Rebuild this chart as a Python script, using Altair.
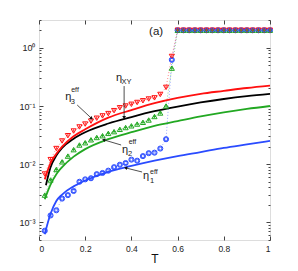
import altair as alt
import pandas as pd

# ---------------- data ----------------
T_pts = [0.025, 0.05, 0.075, 0.1, 0.125, 0.15, 0.175, 0.2, 0.225, 0.25, 0.275, 0.3,
         0.325, 0.35, 0.375, 0.4, 0.425, 0.45, 0.475, 0.5, 0.525, 0.55, 0.575,
         0.6, 0.625, 0.65, 0.675, 0.7, 0.725, 0.75, 0.775, 0.8, 0.825, 0.85, 0.875,
         0.9, 0.925, 0.95, 0.975, 1.0]
blue_pts = [7.2e-4, 1.32e-3, 1.62e-3, 2.57e-3, 2.95e-3, 3.47e-3, 5.0e-3, 5.5e-3, 5.75e-3,
            6.76e-3, 7.08e-3, 7.76e-3, 8.9e-3, 9.8e-3, 1.05e-2, 1.2e-2, 1.15e-2, 1.38e-2,
            1.55e-2, 1.58e-2, 1.86e-2, 2.69e-2, 0.62,
            2, 2, 2, 2, 2, 2, 2, 2, 2, 2, 2, 2, 2, 2, 2, 2, 2]
green_pts = [2.95e-3, 5.37e-3, 8.13e-3, 1.10e-2, 1.38e-2, 1.78e-2, 2.14e-2, 2.34e-2, 2.63e-2,
             2.88e-2, 3.09e-2, 3.39e-2, 3.63e-2, 3.98e-2, 4.27e-2, 4.57e-2, 4.90e-2, 5.25e-2,
             5.75e-2, 6.61e-2, 7.59e-2, 0.100, 0.447,
             2, 2, 2, 2, 2, 2, 2, 2, 2, 2, 2, 2, 2, 2, 2, 2, 2]
red_pts = [6.8e-3, 1.2e-2, 1.86e-2, 2.51e-2, 3.09e-2, 3.72e-2, 4.37e-2, 4.9e-2, 5.5e-2,
           6.17e-2, 6.76e-2, 7.41e-2, 8.32e-2, 9.33e-2, 0.100, 0.107, 0.115, 0.123,
           0.132, 0.138, 0.158, 0.209, 0.71,
           2, 2, 2, 2, 2, 2, 2, 2, 2, 2, 2, 2, 2, 2, 2, 2, 2]

T_fit = [0.025, 0.05, 0.075, 0.1, 0.15, 0.2, 0.3, 0.4, 0.5, 0.6, 0.7, 0.8, 0.9, 1.0]
T_fit_xy = [0.03, 0.05, 0.075, 0.1, 0.15, 0.2, 0.3, 0.4, 0.5, 0.6, 0.7, 0.8, 0.9, 1.0]
red_fit = [5.5e-3, 1.05e-2, 1.51e-2, 2.0e-2, 3.02e-2, 3.98e-2, 6.31e-2, 8.51e-2, 0.112,
           0.138, 0.162, 0.182, 0.204, 0.224]
black_fit = [4.37e-3, 8.9e-3, 1.41e-2, 1.91e-2, 2.75e-2, 3.55e-2, 5.01e-2, 6.46e-2, 8.13e-2,
             9.77e-2, 0.115, 0.132, 0.148, 0.162]
green_fit = [2.51e-3, 4.47e-3, 6.76e-3, 8.91e-3, 1.35e-2, 1.82e-2, 2.69e-2, 3.55e-2, 4.57e-2,
             5.5e-2, 6.61e-2, 7.76e-2, 8.91e-2, 0.100]
blue_fit = [6.3e-4, 1.41e-3, 2.34e-3, 3.02e-3, 4.17e-3, 5.25e-3, 7.41e-3, 9.33e-3, 1.15e-2,
            1.38e-2, 1.62e-2, 1.91e-2, 2.19e-2, 2.51e-2]

x_ticks = [0, 0.2, 0.4, 0.6, 0.8, 1.0]
y_major = [1e-3, 1e-2, 1e-1, 1.0]

# annotations (data coordinates)
eta_T = [0.347, 0.1266, 0.3728, 0.4635]
eta_v = [0.303, 0.143, 0.01754, 0.00628]
sub_lab = ["XY", "3", "2", "1"]
sub_T = [0.357, 0.137, 0.3857, 0.4808]
sub_v = [0.258, 0.117, 0.0150, 0.00515]
sup_T = [0.1395, 0.388, 0.4808]
sup_v = [0.188, 0.0241, 0.00736]
arr_T0 = [0.3685, 0.1654, 0.3555, 0.4462]
arr_v0 = [0.220, 0.104, 0.0214, 0.00736]
arr_T1 = [0.3685, 0.2259, 0.2821, 0.3771]
arr_v1 = [0.0648, 0.0622, 0.0261, 0.00861]
arr_ang = [180, 133, 286, 284]

# ---------------- tables ----------------
series = ["blue", "green", "red"]
colors = {"blue": "#2a4bff", "green": "#22a822", "red": "#ff1010", "black": "#000000"}

pts = pd.concat([
    pd.DataFrame({"T": T_pts, "v": blue_pts, "s": "blue"}),
    pd.DataFrame({"T": T_pts, "v": green_pts, "s": "green"}),
    pd.DataFrame({"T": T_pts, "v": red_pts, "s": "red"}),
], ignore_index=True)

fits = pd.concat([
    pd.DataFrame({"T": T_fit, "v": blue_fit, "s": "blue"}),
    pd.DataFrame({"T": T_fit, "v": green_fit, "s": "green"}),
    pd.DataFrame({"T": T_fit_xy, "v": black_fit, "s": "black"}),
    pd.DataFrame({"T": T_fit, "v": red_fit, "s": "red"}),
], ignore_index=True)

eta_df = pd.DataFrame({"T": eta_T, "v": eta_v, "t": ["η"] * 4})
sub_df = pd.DataFrame({"T": sub_T, "v": sub_v, "t": sub_lab})
sup_df = pd.DataFrame({"T": sup_T, "v": sup_v, "t": ["eff"] * 3})
arr_df = pd.DataFrame({"T": arr_T0, "v": arr_v0, "T2": arr_T1, "v2": arr_v1, "a": arr_ang})
lab_df = pd.DataFrame({"T": [0.507], "v": [1.87], "t": ["(a)"]})

# ---------------- scales / axes ----------------
W, H = 231, 220
xs = alt.Scale(domain=[0, 1], nice=False, zero=False)
ys = alt.Scale(type="log", domain=[5e-4, 3], nice=False)
cs = alt.Scale(domain=["blue", "green", "black", "red"],
               range=[colors["blue"], colors["green"], colors["black"], colors["red"]])

y_all = [k * 10.0 ** e for e in range(-4, 1) for k in range(1, 10) if 5e-4 <= k * 10.0 ** e <= 3]
is_major = "abs(log(datum.value)/LN10 - round(log(datum.value)/LN10)) < 0.000001"
tick_y = {"condition": {"test": is_major, "value": 4}, "value": 2}

FONT = "Liberation Sans"

x_lab = alt.Axis(orient="bottom", values=x_ticks, format="~g", ticks=False, domain=False,
                 grid=False, title="T", labelFontSize=8.5, titleFontSize=12,
                 titleFontWeight="normal", labelPadding=4, titlePadding=1,
                 labelFont=FONT, titleFont=FONT, labelColor="#222", titleColor="#111")
y_lab = alt.Axis(orient="left", values=y_major, ticks=False, domain=False, grid=False,
                 title=None, labelFontSize=9, labelPadding=4, labelFont=FONT, labelColor="#222",
                 labelExpr="datum.value >= 0.5 ? '10⁰' : datum.value >= 0.05 ? '10⁻¹' : "
                           "datum.value >= 0.005 ? '10⁻²' : '10⁻³'")
x_tk_bottom = alt.Axis(orient="top", offset=-H, values=x_ticks, labels=False, domain=False,
                       grid=False, title=None, tickSize=4, tickColor="#444")
x_tk_top = alt.Axis(orient="bottom", offset=-H, values=x_ticks, labels=False, domain=False,
                    grid=False, title=None, tickSize=4, tickColor="#444")
y_tk_left = alt.Axis(orient="right", offset=-W, values=y_all, labels=False, domain=False,
                     grid=False, title=None, tickSize=tick_y, tickColor="#444")
y_tk_right = alt.Axis(orient="left", offset=-W, values=y_all, labels=False, domain=False,
                      grid=False, title=None, tickSize=tick_y, tickColor="#444")

# ---------------- layers ----------------
dotted = alt.Chart(pts).mark_line(strokeDash=[1, 2], strokeWidth=0.9, opacity=0.55).encode(
    x=alt.X("T:Q", scale=xs, axis=x_tk_top),
    y=alt.Y("v:Q", scale=ys, axis=y_tk_right),
    color=alt.Color("s:N", scale=cs, legend=None),
    detail="s:N",
)

lines = alt.Chart(fits).mark_line(strokeWidth=1.8, interpolate="monotone").encode(
    x=alt.X("T:Q", scale=xs, axis=x_lab),
    y=alt.Y("v:Q", scale=ys, axis=y_lab),
    color=alt.Color("s:N", scale=cs, legend=None),
    detail="s:N",
)

outer = alt.Chart(pts).mark_point(filled=False, strokeWidth=1, size=26, opacity=1).encode(
    x=alt.X("T:Q", scale=xs, axis=x_tk_bottom),
    y=alt.Y("v:Q", scale=ys, axis=y_tk_left),
    color=alt.Color("s:N", scale=cs, legend=None),
    shape=alt.Shape("s:N", scale=alt.Scale(domain=series,
                                           range=["circle", "triangle-up", "triangle-down"]),
                    legend=None),
)

inner = alt.Chart(pts).mark_point(filled=False, strokeWidth=0.9, size=9, opacity=1).encode(
    x=alt.X("T:Q", scale=xs, axis=None),
    y=alt.Y("v:Q", scale=ys, axis=None),
    color=alt.Color("s:N", scale=cs, legend=None),
    shape=alt.Shape("s:N", scale=alt.Scale(domain=series,
                                           range=["square", "M-1,0L1,0M0,-1L0,1", "M0,-1.2L0,0.5"]),
                    legend=None),
)

def txt(df, size, align):
    return alt.Chart(df).mark_text(fontSize=size, align=align, baseline="middle", font=FONT,
                                   color="#1a1a1a", fill="#1a1a1a").encode(
        x=alt.X("T:Q", scale=xs, axis=None),
        y=alt.Y("v:Q", scale=ys, axis=None),
        text="t:N",
    )

eta_txt = txt(eta_df, 11, "center")
sub_txt = txt(sub_df, 7.5, "left")
sup_txt = txt(sup_df, 7, "left")
lab_txt = txt(lab_df, 11.5, "center")

shafts = alt.Chart(arr_df).mark_rule(color="#222", strokeWidth=0.8).encode(
    x=alt.X("T:Q", scale=xs, axis=None),
    y=alt.Y("v:Q", scale=ys, axis=None),
    x2="T2:Q",
    y2="v2:Q",
)
heads = alt.Chart(arr_df).mark_point(shape="triangle", filled=True, size=14, color="#111",
                                     opacity=1).encode(
    x=alt.X("T2:Q", scale=xs, axis=None),
    y=alt.Y("v2:Q", scale=ys, axis=None),
    angle=alt.Angle("a:Q", scale=None),
)

chart = alt.layer(
    dotted, lines, outer, inner, shafts, heads, eta_txt, sub_txt, sup_txt, lab_txt
).resolve_axis(
    x="independent", y="independent"
).resolve_scale(
    shape="independent"
).properties(
    width=W, height=H,
    padding={"left": 31, "top": 12, "right": 20, "bottom": 31},
    autosize=alt.AutoSizeParams(type="none"),
).configure_view(
    stroke="#444", strokeWidth=1
).configure(background="white")

chart.save("out.html", embed_options={"renderer": "svg", "actions": False})
